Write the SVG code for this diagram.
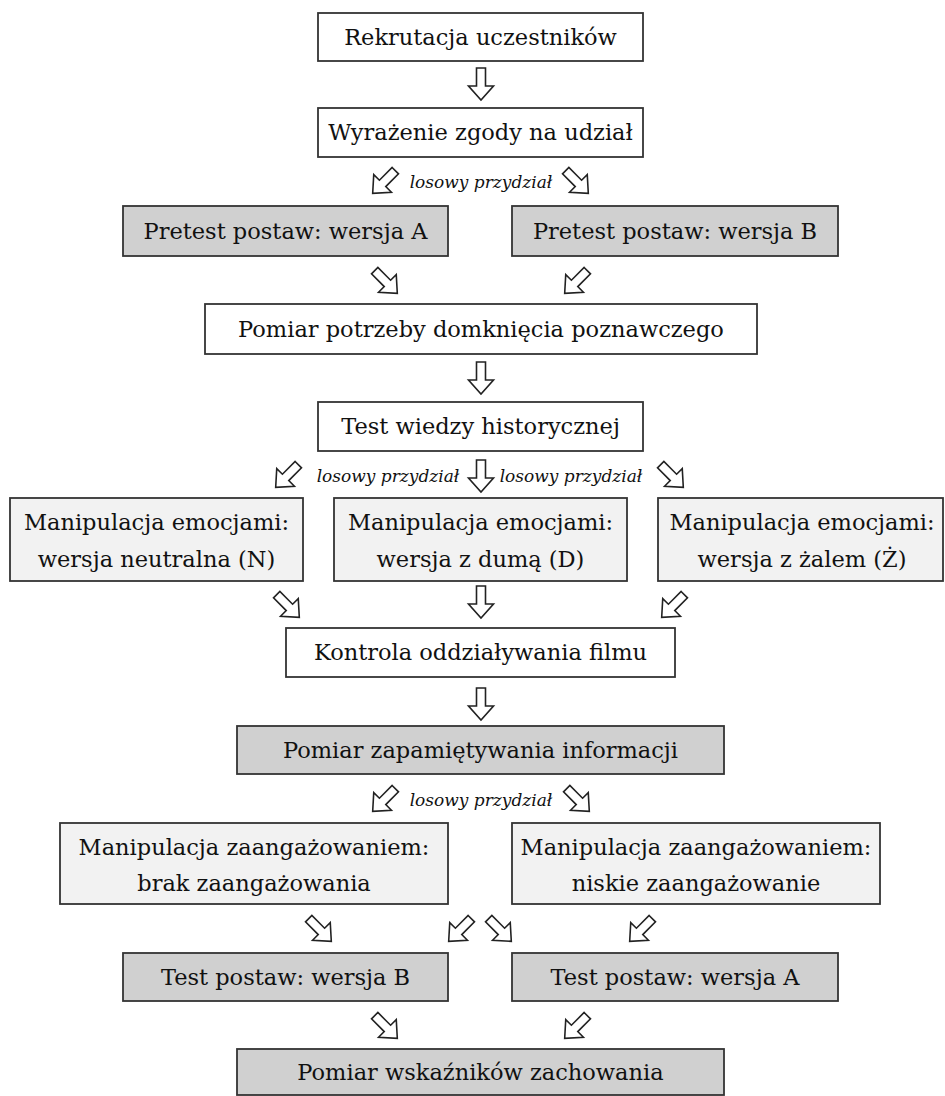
<svg xmlns="http://www.w3.org/2000/svg" xmlns:xlink="http://www.w3.org/1999/xlink" width="945" height="1096" viewBox="0 0 945 1096">
<style>
.box{stroke:#333;stroke-width:1.8}
.w{fill:#fff}.g{fill:#d0d0d0}.l{fill:#f2f2f2}
.t{font-family:"DejaVu Serif","Liberation Serif",serif;font-size:22.5px;fill:#111;text-anchor:middle}
.lab{font-family:"DejaVu Serif","Liberation Serif",serif;font-style:italic;font-size:17px;fill:#111;text-anchor:middle}
.arr{fill:#fff;stroke:#222;stroke-width:1.6;stroke-linejoin:miter}
</style>
<defs>
<path id="a" class="arr" d="M-4.5,-16 L4.5,-16 L4.5,2 L12.5,2 L0,16 L-12.5,2 L-4.5,2 Z"/>
</defs>
<rect width="945" height="1096" fill="#fff"/>

<g id="n1"><rect class="box w" x="318" y="13" width="325" height="48"/><text class="t" x="480.5" y="45">Rekrutacja uczestników</text></g>
<g id="n2"><rect class="box w" x="318" y="108" width="325" height="49"/><text class="t" x="480.5" y="140">Wyrażenie zgody na udział</text></g>
<g id="n3"><rect class="box g" x="123" y="206" width="325" height="50"/><text class="t" x="285.5" y="239">Pretest postaw: wersja A</text></g>
<g id="n4"><rect class="box g" x="512" y="206" width="326" height="50"/><text class="t" x="675" y="239">Pretest postaw: wersja B</text></g>
<g id="n5"><rect class="box w" x="205" y="304" width="552" height="50"/><text class="t" x="481" y="337">Pomiar potrzeby domknięcia poznawczego</text></g>
<g id="n6"><rect class="box w" x="318" y="402" width="325" height="49"/><text class="t" x="480.5" y="434">Test wiedzy historycznej</text></g>
<g id="n7"><rect class="box l" x="10" y="498" width="293" height="83"/><text class="t" x="156.5" y="530">Manipulacja emocjami:</text><text class="t" x="156.5" y="567">wersja neutralna (N)</text></g>
<g id="n8"><rect class="box l" x="334" y="498" width="293" height="83"/><text class="t" x="480.5" y="530">Manipulacja emocjami:</text><text class="t" x="480.5" y="567">wersja z dumą (D)</text></g>
<g id="n9"><rect class="box l" x="658" y="498" width="285" height="83"/><text class="t" x="802" y="530">Manipulacja emocjami:</text><text class="t" x="802" y="567">wersja z żalem (Ż)</text></g>
<g id="n10"><rect class="box w" x="286" y="628" width="389" height="49"/><text class="t" x="480.5" y="660">Kontrola oddziaływania filmu</text></g>
<g id="n11"><rect class="box g" x="237" y="726" width="487" height="48"/><text class="t" x="480.5" y="758">Pomiar zapamiętywania informacji</text></g>
<g id="n12"><rect class="box l" x="60" y="823" width="388" height="81"/><text class="t" x="254" y="855">Manipulacja zaangażowaniem:</text><text class="t" x="254" y="891">brak zaangażowania</text></g>
<g id="n13"><rect class="box l" x="512" y="823" width="368" height="81"/><text class="t" x="696" y="855">Manipulacja zaangażowaniem:</text><text class="t" x="696" y="891">niskie zaangażowanie</text></g>
<g id="n14"><rect class="box g" x="123" y="953" width="325" height="48"/><text class="t" x="285.5" y="985">Test postaw: wersja B</text></g>
<g id="n15"><rect class="box g" x="512" y="953" width="326" height="48"/><text class="t" x="675" y="985">Test postaw: wersja A</text></g>
<g id="n16"><rect class="box g" x="237" y="1049" width="487" height="46"/><text class="t" x="480.5" y="1080">Pomiar wskaźników zachowania</text></g>

<g id="connectors">
<use xlink:href="#a" transform="translate(481,84)"/>
<use xlink:href="#a" transform="translate(384,182) rotate(45)"/>
<text class="lab" x="481" y="188">losowy przydział</text>
<use xlink:href="#a" transform="translate(577,182) rotate(-45)"/>
<use xlink:href="#a" transform="translate(386,282) rotate(-45)"/>
<use xlink:href="#a" transform="translate(576,282) rotate(45)"/>
<use xlink:href="#a" transform="translate(481,378)"/>
<use xlink:href="#a" transform="translate(287,476) rotate(45)"/>
<text class="lab" x="388" y="482">losowy przydział</text>
<use xlink:href="#a" transform="translate(481,476)"/>
<text class="lab" x="571" y="482">losowy przydział</text>
<use xlink:href="#a" transform="translate(672,476) rotate(-45)"/>
<use xlink:href="#a" transform="translate(288,606) rotate(-45)"/>
<use xlink:href="#a" transform="translate(481,602)"/>
<use xlink:href="#a" transform="translate(673,606) rotate(45)"/>
<use xlink:href="#a" transform="translate(481,704)"/>
<use xlink:href="#a" transform="translate(384,800) rotate(45)"/>
<text class="lab" x="481" y="806">losowy przydział</text>
<use xlink:href="#a" transform="translate(578,800) rotate(-45)"/>
<use xlink:href="#a" transform="translate(320,930) rotate(-45)"/>
<use xlink:href="#a" transform="translate(460,930) rotate(45)"/>
<use xlink:href="#a" transform="translate(500,930) rotate(-45)"/>
<use xlink:href="#a" transform="translate(641,930) rotate(45)"/>
<use xlink:href="#a" transform="translate(386,1027) rotate(-45)"/>
<use xlink:href="#a" transform="translate(576,1027) rotate(45)"/>
</g>
</svg>
